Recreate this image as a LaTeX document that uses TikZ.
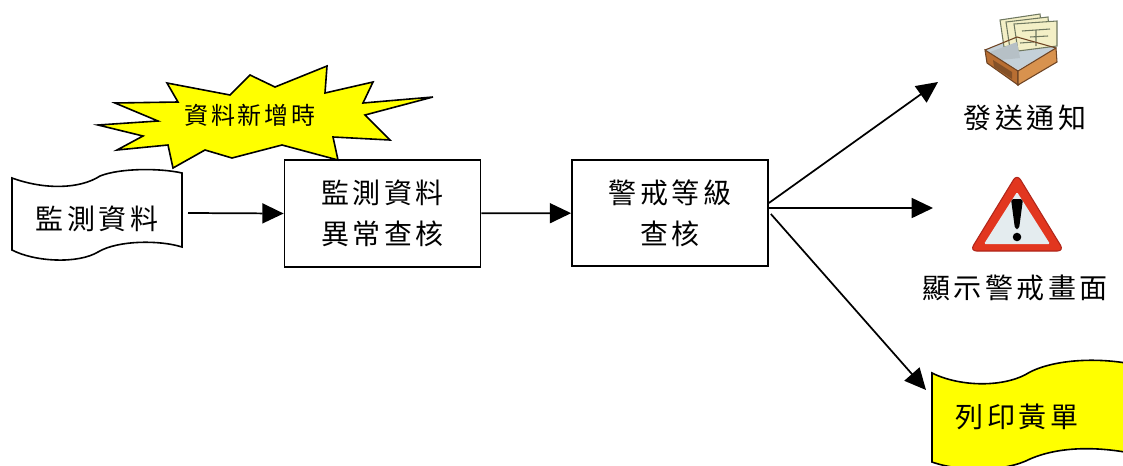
\documentclass[tikz,border=0pt]{standalone}
\usepackage{fontspec}
\newfontfamily\cjk[LetterSpace=12]{Noto Sans CJK TC}
\usetikzlibrary{arrows.meta,calc}
\definecolor{burst}{HTML}{FFFF00}
\definecolor{alarmred}{HTML}{E2361F}
\definecolor{alarmdark}{HTML}{B0261A}
\definecolor{alarmfill}{HTML}{E4ECEF}
\definecolor{trayleft}{HTML}{B86E32}
\definecolor{trayright}{HTML}{D8924E}
\definecolor{trayedge}{HTML}{6E4424}
\definecolor{trayin}{HTML}{C4D0D8}
\definecolor{paper}{HTML}{F3EFC6}
\definecolor{paperedge}{HTML}{6F7860}
\begin{document}
\begin{tikzpicture}[x=0.75pt,y=-0.75pt,
  box/.style={draw,line width=1.3pt,minimum width=147pt,minimum height=80pt,
    inner sep=0pt,align=center,font=\cjk\fontsize{21}{31}\selectfont},
  lbl/.style={font=\cjk\fontsize{21}{31}\selectfont,inner sep=0pt},
  flow/.style={line width=1.3pt,-{Triangle[length=16pt,width=15pt]}},
  outline/.style={line width=1.2pt}]
\useasboundingbox (0,0) rectangle (1123,465);
\clip (0,0) rectangle (1123,465);

% trigger burst
\draw[outline,fill=burst,line join=miter]
  (98,125) -- (158,121) -- (115,103) -- (178,102) -- (167,83) -- (230,95)
  -- (250,75) -- (275,87) -- (327,66) -- (325,93) -- (373,82) -- (363,103)
  -- (433,97) -- (365,115) -- (390,140) -- (333,137) -- (338,160)
  -- (282,145) -- (232,158) -- (205,150) -- (173,168) -- (168,145)
  -- (117,150) -- (143,136) -- cycle;
\node[lbl,font=\cjk\fontsize{18}{20}\selectfont] (event) at (250,115) {資料新增時};

% source data (wave shape)
\draw[outline,fill=white]
  (12,178) .. controls (45,190) and (80,189) .. (100,176)
  .. controls (120,168) and (160,168) .. (182,173) -- (182,247)
  .. controls (160,240) and (118,240) .. (98,252)
  .. controls (78,264) and (35,262) .. (12,250) -- cycle;
\node[lbl] (src) at (97,219) {監測資料};

% processing steps
\node[box] (b1) at (382.5,213.5) {監測資料\\異常查核};
\node[box] (b2) at (670,213) {警戒等級\\查核};

\coordinate (srcout) at (188,213);
\draw[flow] (srcout) -- (b1.west);
\draw[flow] (b1) -- (b2);

% outputs
\coordinate (t1) at (938,82);
\coordinate (t2) at (933,208);
\coordinate (t3) at (926,390);
\draw[flow] ([yshift=7.5pt]b2.east) -- (t1);
\draw[flow] ([yshift=3.75pt]b2.east) -- (t2);
\draw[flow] ([xshift=1.5pt,yshift=-0.75pt]b2.east) -- (t3);

% notification tray icon
\fill[trayin] (985,50) -- (1017,37) -- (1056,48) -- (1018,70) -- cycle;
\begin{scope}[draw=paperedge,line width=0.8pt,fill=paper]
  \filldraw (1000,20) -- (1040,14) -- (1043,40) -- (1004,47) -- cycle;
  \filldraw (1006,22) -- (1048,17) -- (1050,43) -- (1010,49) -- cycle;
  \filldraw (1014,24) -- (1057,21) -- (1057,46) -- (1018,51) -- cycle;
  \draw (1022,31) -- (1050,29) (1030,37) -- (1048,36) (1036,30) -- (1036,46)
        (1020,43) -- (1034,42);
\end{scope}
\fill[trayin!80!gray] (990,52) -- (1017,42) -- (1020,58) -- (1000,60) -- cycle;
\filldraw[fill=trayleft,draw=trayedge,line width=0.8pt]
  (985,50) -- (1018,71) -- (1018,85) -- (987,63) -- cycle;
\filldraw[fill=trayright,draw=trayedge,line width=0.8pt]
  (1018,71) -- (1056,48) -- (1057,62) -- (1018,85) -- cycle;
\fill[trayedge!70!trayleft] (993,60) -- (1012,72) -- (1012,79) -- (994,67) -- cycle;
\draw[trayedge,line width=0.8pt] (985,50) -- (1017,37) -- (1056,48);
\node[lbl] (notify) at (1025,118) {發送通知};

% warning icon
\filldraw[fill=alarmred,draw=alarmdark,line width=0.8pt,rounded corners=5pt]
  (1017,174) -- (1064,251) -- (970,251) -- cycle;
\fill[alarmfill,rounded corners=1pt] (1017,192) -- (1050,244) -- (984,244) -- cycle;
\fill[black,rounded corners=2pt] (1011,199) -- (1023,199) -- (1019,229) -- (1015,229) -- cycle;
\fill[black] (1017,237) circle (3.2pt);
\node[lbl] (alarm) at (1015,288) {顯示警戒畫面};

% printed report (wave shape)
\draw[outline,fill=burst]
  (932,373) .. controls (960,387) and (1005,388) .. (1030,372)
  .. controls (1060,357) and (1110,358) .. (1140,366) -- (1140,470)
  -- (1140,455) .. controls (1100,446) and (1060,446) .. (1030,459)
  .. controls (1005,472) and (960,472) .. (932,462) -- cycle;
\node[lbl] (print) at (1017,417) {列印黃單};
\end{tikzpicture}
\end{document}
